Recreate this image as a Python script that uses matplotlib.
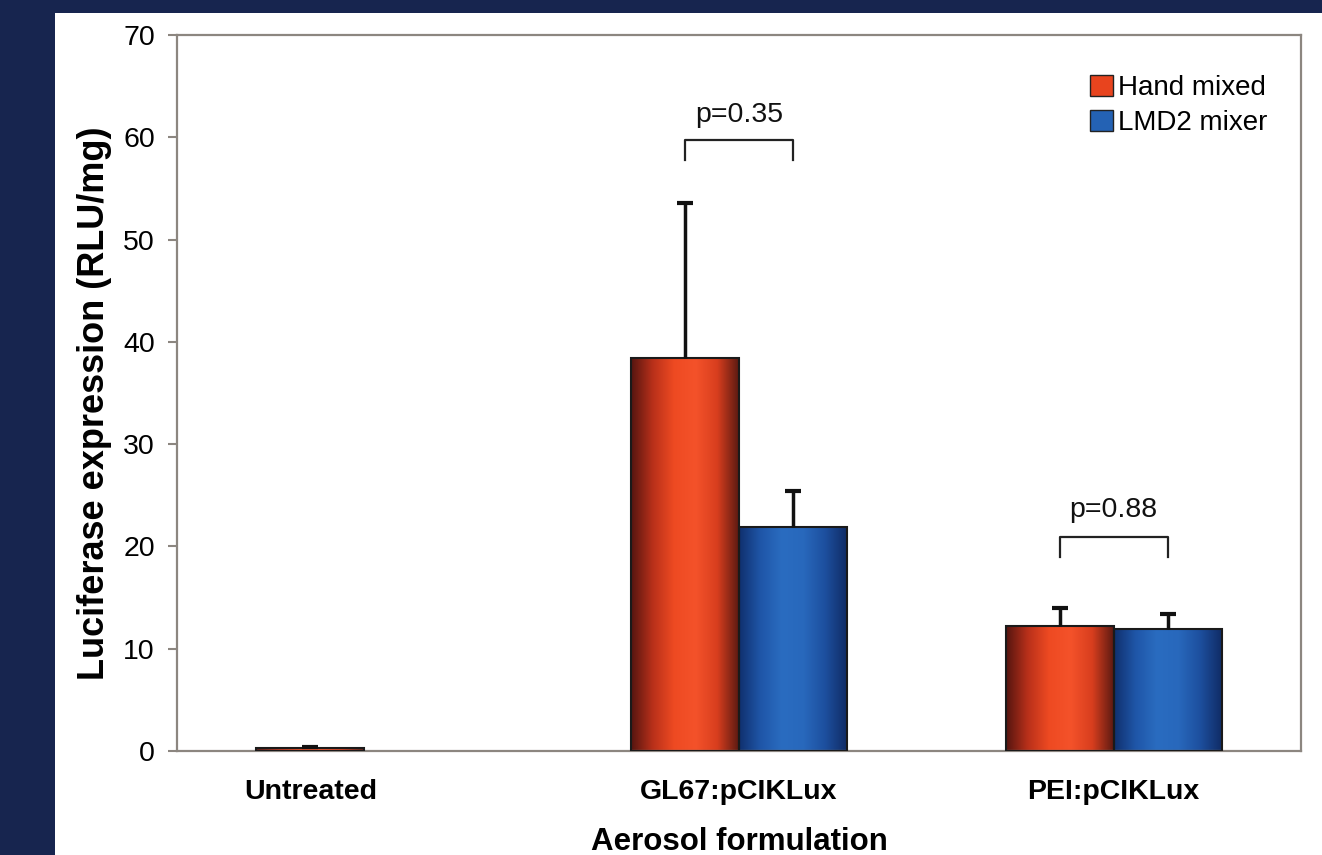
import numpy as np
import matplotlib
matplotlib.use("Agg")
import matplotlib.pyplot as plt
from matplotlib.colors import LinearSegmentedColormap
from matplotlib.patches import Patch, Rectangle

plt.rcParams['font.family'] = ['Liberation Sans', 'DejaVu Sans']

categories = ["Untreated", "GL67:pCIKLux", "PEI:pCIKLux"]
hand_mixed = [0.3, 38.4, 12.2]
hand_err = [0.1, 15.2, 1.8]
lmd2_mixer = [np.nan, 21.9, 11.9]
lmd2_err = [np.nan, 3.5, 1.5]
p_labels = {1: "p=0.35", 2: "p=0.88"}
p_heights = {1: (57.8, 59.7, 62.2), 2: (19.0, 20.9, 23.6)}

red_cmap = LinearSegmentedColormap.from_list(
    "red", ["#551510", "#b8301a", "#ee4a22", "#f4522a", "#d83e1e", "#5c1a12"])
blue_cmap = LinearSegmentedColormap.from_list(
    "blue", ["#10306e", "#1f56a8", "#2a6cc0", "#2868bc", "#1d4f9e", "#102c66"])

fig = plt.figure(figsize=(13.22, 8.55), dpi=100)
fig.patch.set_facecolor("#17254f")
fig.patches.append(Rectangle((55 / 1322, 0), 1, (855 - 13) / 855,
                             transform=fig.transFigure, facecolor="white",
                             edgecolor="none", zorder=-5))

ax = fig.add_axes([177 / 1322, 104 / 855, 1124 / 1322, 716 / 855])
ax.set_facecolor("white")

x = np.arange(len(categories))
w = 0.288
grad = np.linspace(0, 1, 256).reshape(1, -1)


def gradient_bars(xs, vals, cmap):
    bars = ax.bar(xs, vals, w, facecolor="none", edgecolor="#1a1a1a",
                  linewidth=1.5, zorder=3)
    for b in bars:
        h = b.get_height()
        if np.isnan(h) or h <= 0:
            continue
        x0 = b.get_x()
        ax.imshow(grad, cmap=cmap, aspect="auto", zorder=2,
                  extent=(x0, x0 + b.get_width(), 0, h))
    return bars


gradient_bars(x - w / 2, hand_mixed, red_cmap)
gradient_bars(x + w / 2, lmd2_mixer, blue_cmap)

# upper error bars only
for xs, vals, errs in [(x - w / 2, hand_mixed, hand_err), (x + w / 2, lmd2_mixer, lmd2_err)]:
    for xi, v, e in zip(xs, vals, errs):
        if np.isnan(v):
            continue
        _, caps, _ = ax.errorbar(xi, v, yerr=[[0], [e]], fmt="none", ecolor="#111111",
                                 elinewidth=2.5, capsize=5.5, capthick=3, zorder=4)
        caps[0].set_visible(False)

for i, lab in p_labels.items():
    lo, hi, ty = p_heights[i]
    xl, xr = x[i] - w / 2, x[i] + w / 2
    ax.plot([xl, xl, xr, xr], [lo, hi, hi, lo], color="#222222", lw=1.6, zorder=4)
    ax.text(x[i], ty, lab, ha="center", va="center", fontsize=20.5, color="#111111")

ax.set_xlim(-0.5, 2.5)
ax.set_ylim(0, 70)
ax.set_yticks(range(0, 71, 10))
tick_pos = [x[0] - w / 2, x[1], x[2]]
ax.set_xticks(tick_pos)
ax.set_xticklabels(categories, fontsize=20.5, fontweight="bold")
ax.tick_params(axis="x", length=0, pad=20)
ax.tick_params(axis="y", length=6.5, width=1.5, color="#8c8680", labelsize=20.5, pad=9.5)
for s in ax.spines.values():
    s.set_color("#8c8680")
    s.set_linewidth(1.6)

ax.set_ylabel("Luciferase expression (RLU/mg)", fontsize=26, fontweight="bold", labelpad=4)
ax.yaxis.set_label_coords(-0.058, 0.485)
ax.set_xlabel("Aerosol formulation", fontsize=22.5, fontweight="bold", labelpad=16)

handles = [Patch(facecolor="#e8441e", edgecolor="#222222", label="Hand mixed"),
           Patch(facecolor="#2462b4", edgecolor="#222222", label="LMD2 mixer")]
ax.legend(handles=handles, loc="upper right", frameon=False, fontsize=20,
          handlelength=0.8, handleheight=0.8, handletextpad=0.2,
          labelspacing=0.3, borderaxespad=0.4, bbox_to_anchor=(0.99, 0.975))

fig.savefig("out.png", dpi=100, facecolor=fig.get_facecolor())
